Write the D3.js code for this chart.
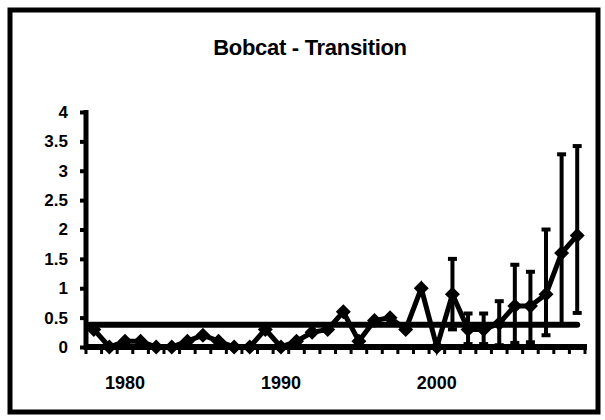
<!DOCTYPE html>
<html>
<head>
<meta charset="utf-8">
<script src="https://cdn.jsdelivr.net/npm/d3@7"></script>
<style>
  html, body { margin: 0; padding: 0; background: #fff; }
  svg { display: block; font-family: Arial, "Liberation Sans", sans-serif; }
</style>
</head>
<body>
<svg id="chart" width="605" height="420"></svg>
<script>
// ---- data ----
const years = d3.range(1978, 2010);
const values = [0.3, 0, 0.1, 0.1, 0, 0, 0.1, 0.2, 0.1, 0, 0, 0.3, 0, 0.1, 0.25, 0.3,
                0.6, 0.1, 0.45, 0.5, 0.3, 1.0, 0, 0.9, 0.3, 0.3, 0.4, 0.7, 0.7, 0.9, 1.6, 1.9];
const errLow  = [null, null, null, null, null, null, null, null, null, null, null, null, null, null, null, null,
                 null, null, null, null, null, null, null, 0.3, 0.05, 0.05, 0.03, 0.07, 0.08, 0.2, 0.38, 0.58];
const errHigh = [null, null, null, null, null, null, null, null, null, null, null, null, null, null, null, null,
                 null, null, null, null, null, null, null, 1.5, 0.57, 0.57, 0.78, 1.4, 1.28, 2.0, 3.28, 3.42];
const meanValue = [0.38];
const yTicks = [0, 0.5, 1, 1.5, 2, 2.5, 3, 3.5, 4];
const yTickLabels = ["0", "0.5", "1", "1.5", "2", "2.5", "3", "3.5", "4"];
const xLabelYears = [1980, 1990, 2000];
const title = "Bobcat - Transition";

// ---- layout ----
const svg = d3.select("#chart");
const plot = { left: 86, right: 585, top: 112, bottom: 347 };

const x = d3.scaleBand().domain(years).range([plot.left, plot.right]).padding(0);
const xc = d => x(d) + x.bandwidth() / 2;
const y = d3.scaleLinear().domain([0, 4]).range([plot.bottom, plot.top]);

// outer border
svg.append("rect")
  .attr("x", 10).attr("y", 10).attr("width", 588).attr("height", 402)
  .attr("fill", "none").attr("stroke", "#000").attr("stroke-width", 5);

// title
svg.append("text")
  .attr("x", 310).attr("y", 55)
  .attr("text-anchor", "middle")
  .attr("font-weight", "bold").attr("font-size", 22)
  .attr("letter-spacing", -0.3)
  .text(title);

// y axis
const yAxis = d3.axisLeft(y).tickValues(yTicks)
  .tickFormat((d, i) => yTickLabels[i]).tickSize(6).tickPadding(12);
const gy = svg.append("g").attr("transform", `translate(${plot.left},0)`).call(yAxis);
gy.select(".domain").remove();
gy.selectAll(".tick line").attr("stroke-width", 4).attr("stroke", "#000");
gy.selectAll(".tick text").attr("font-size", 17).attr("font-weight", "bold")
  .attr("font-family", "Arial, 'Liberation Sans', sans-serif").attr("fill", "#000");
svg.append("line")
  .attr("x1", plot.left).attr("x2", plot.left)
  .attr("y1", y(4) - 2).attr("y2", y(0) + 3)
  .attr("stroke", "#000").attr("stroke-width", 5);

// x axis ticks at category boundaries
const boundaries = years.map(d => x(d)).concat([x.range()[1]]);
svg.append("g").selectAll("line").data(boundaries).join("line")
  .attr("x1", d => d).attr("x2", d => d)
  .attr("y1", y(0)).attr("y2", y(0) + 7)
  .attr("stroke", "#000").attr("stroke-width", 3);
svg.append("line")
  .attr("x1", plot.left).attr("x2", plot.right + 2)
  .attr("y1", y(0)).attr("y2", y(0))
  .attr("stroke", "#000").attr("stroke-width", 6);

// x labels
svg.append("g").selectAll("text").data(xLabelYears).join("text")
  .attr("x", d => xc(d)).attr("y", 389)
  .attr("text-anchor", "middle")
  .attr("font-size", 18).attr("font-weight", "bold")
  .text(d => d);

// mean line
svg.append("line")
  .attr("x1", xc(years[0]) - 4).attr("x2", xc(years[years.length - 1]))
  .attr("y1", y(meanValue[0])).attr("y2", y(meanValue[0]))
  .attr("stroke", "#000").attr("stroke-width", 6).attr("stroke-linecap", "round");

// error bars
const errData = years.map((yr, i) => ({ yr, lo: errLow[i], hi: errHigh[i] }))
  .filter(d => d.lo !== null && d.hi !== null);
const eg = svg.append("g").attr("stroke", "#000");
eg.selectAll("line.v").data(errData).join("line").attr("class", "v")
  .attr("x1", d => xc(d.yr)).attr("x2", d => xc(d.yr))
  .attr("y1", d => y(d.lo)).attr("y2", d => y(d.hi))
  .attr("stroke-width", 4);
eg.selectAll("line.top").data(errData).join("line").attr("class", "top")
  .attr("x1", d => xc(d.yr) - 4.5).attr("x2", d => xc(d.yr) + 4.5)
  .attr("y1", d => y(d.hi)).attr("y2", d => y(d.hi))
  .attr("stroke-width", 4);
eg.selectAll("line.bot").data(errData).join("line").attr("class", "bot")
  .attr("x1", d => xc(d.yr) - 4.5).attr("x2", d => xc(d.yr) + 4.5)
  .attr("y1", d => y(d.lo)).attr("y2", d => y(d.lo))
  .attr("stroke-width", 4);

// data line
const pts = years.map((yr, i) => ({ yr, v: values[i] }));
svg.append("path").datum(pts)
  .attr("fill", "none").attr("stroke", "#000").attr("stroke-width", 5)
  .attr("stroke-linejoin", "miter")
  .attr("d", d3.line().x(d => xc(d.yr)).y(d => y(d.v)));

// diamonds
svg.append("g").selectAll("path").data(pts).join("path")
  .attr("transform", d => `translate(${xc(d.yr)},${y(d.v)})`)
  .attr("d", "M0,-7.5L7.5,0L0,7.5L-7.5,0Z")
  .attr("fill", "#000");
</script>
</body>
</html>
